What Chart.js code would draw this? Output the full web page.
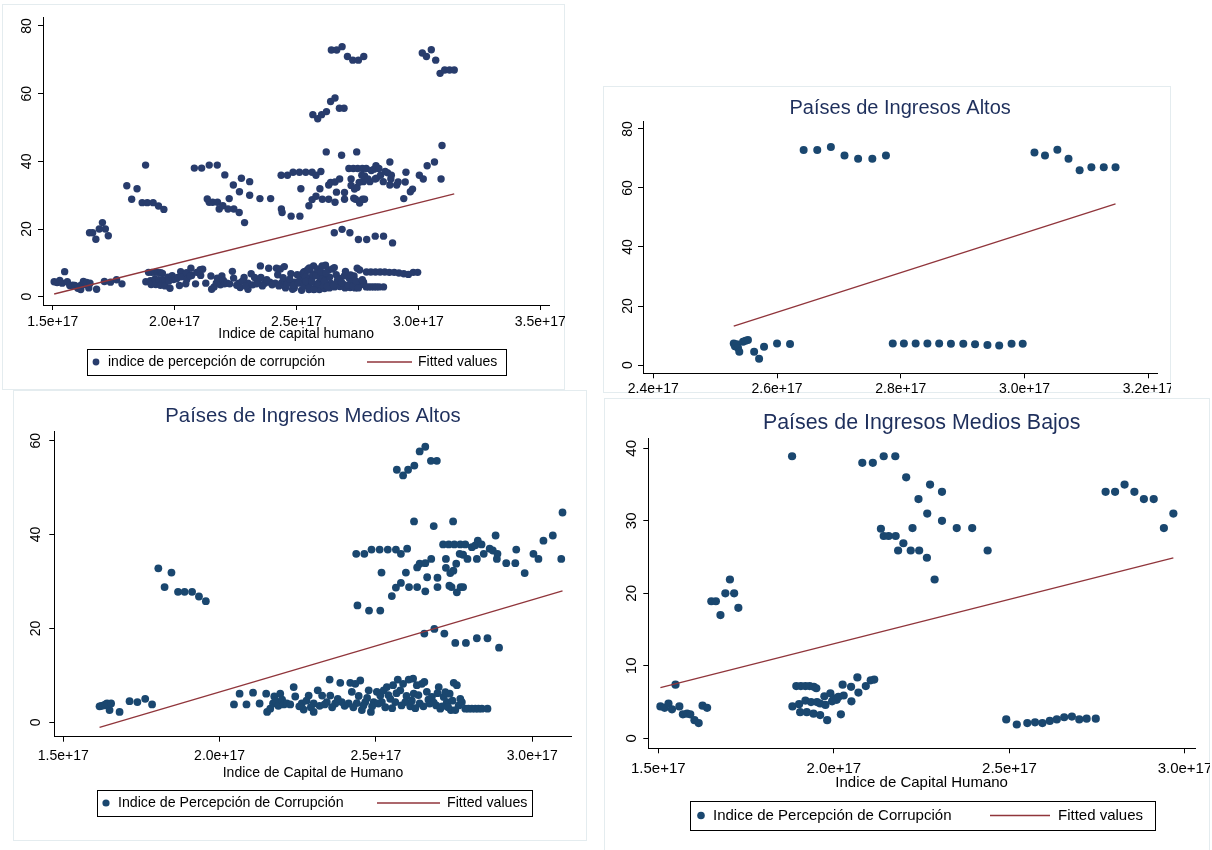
<!DOCTYPE html>
<html>
<head>
<meta charset="utf-8">
<title>Índice de percepción de corrupción vs. índice de capital humano</title>
<script src="https://cdn.jsdelivr.net/npm/chart.js@4.4.1/dist/chart.umd.min.js"></script>
<style>
  html, body { margin: 0; padding: 0; background: #fff; }
  body { width: 1212px; height: 850px; position: relative; overflow: hidden; }
  .frame { position: absolute; background: #fff; border: 1px solid #e4ecef; box-sizing: border-box; }
  canvas { position: absolute; }
</style>
</head>
<body>
<div class="frame" style="left:2px;top:4px;width:563px;height:386px"></div>
<div class="frame" style="left:603px;top:86px;width:568px;height:307px"></div>
<div class="frame" style="left:13px;top:390px;width:574px;height:451px"></div>
<div class="frame" style="left:604px;top:398px;width:606px;height:456px"></div>

<canvas id="todos" width="563" height="386" style="left:2px;top:4px"></canvas>
<canvas id="altos" width="568" height="312" style="left:603px;top:86px"></canvas>
<canvas id="mediosAltos" width="574" height="451" style="left:13px;top:390px"></canvas>
<canvas id="mediosBajos" width="606" height="452" style="left:604px;top:398px"></canvas>

<script>
// Human capital index values are stored in units of 1e17.
const HCI_UNIT = 1e17;

// [índice de capital humano (×1e17), índice de percepción de corrupción]
const ALTOS = [
  [2.530, 7.3], [2.532, 6.4], [2.535, 7.0], [2.537, 5.8], [2.539, 4.5], [2.545, 7.9],
  [2.549, 8.2], [2.553, 8.5], [2.563, 4.5], [2.571, 2.1], [2.579, 6.2], [2.600, 7.3], [2.621, 7.1],
  [2.643, 72.9], [2.665, 72.9], [2.687, 73.9], [2.709, 71.0], [2.731, 69.9], [2.754, 69.9], [2.776, 71.0],
  [2.787, 7.3], [2.805, 7.3], [2.824, 7.3], [2.843, 7.3], [2.862, 7.3], [2.881, 7.2],
  [2.901, 7.2], [2.920, 7.0], [2.940, 6.8], [2.959, 6.6], [2.979, 7.2], [2.997, 7.2],
  [3.016, 72.0], [3.033, 71.0], [3.053, 73.0], [3.071, 69.9], [3.089, 66.0], [3.108, 67.0],
  [3.128, 67.0], [3.147, 67.0]
];

const MEDIOS_ALTOS = [
  [1.616, 3.4], [1.622, 3.5], [1.629, 3.6], [1.635, 3.8], [1.640, 4.0], [1.648, 2.6],
  [1.653, 4.0], [1.680, 2.2], [1.712, 4.5], [1.737, 4.3], [1.762, 5.0], [1.784, 3.8],
  [1.804, 32.8], [1.824, 28.8], [1.846, 31.9], [1.867, 27.8], [1.888, 27.8], [1.912, 27.8],
  [1.934, 26.8], [1.956, 25.8],
  [2.046, 3.8], [2.064, 6.1], [2.086, 3.8], [2.107, 6.3], [2.128, 4.0], [2.149, 6.1],
  [2.152, 2.2], [2.162, 2.9], [2.171, 4.0], [2.175, 5.5], [2.180, 4.5], [2.188, 3.5],
  [2.194, 6.1], [2.200, 4.8], [2.205, 3.8], [2.215, 4.0], [2.226, 3.8], [2.237, 7.5], [2.242, 5.5],
  [2.263, 4.0], [2.269, 2.7], [2.285, 5.7], [2.301, 4.0], [2.301, 2.2], [2.314, 6.8],
  [2.328, 5.7], [2.343, 4.3], [2.352, 9.1], [2.354, 5.7], [2.370, 4.0], [2.386, 8.4],
  [2.391, 4.3], [2.413, 4.0], [2.418, 8.4], [2.423, 6.5], [2.434, 8.2], [2.439, 4.1],
  [2.450, 8.9], [2.455, 2.6], [2.466, 4.3], [2.477, 6.8], [2.484, 2.2], [2.493, 4.3],
  [2.503, 6.5], [2.514, 5.7], [2.519, 4.3], [2.525, 6.8], [2.535, 7.5], [2.546, 5.0],
  [2.555, 7.9], [2.562, 4.3], [2.570, 9.1], [2.578, 6.8], [2.587, 8.2], [2.594, 4.3],
  [2.605, 9.1], [2.610, 3.4], [2.619, 9.3], [2.621, 6.1], [2.631, 7.9], [2.640, 4.0],
  [2.647, 8.2], [2.655, 8.6], [2.663, 6.5], [2.672, 4.0], [2.679, 5.4], [2.693, 3.6],
  [2.701, 7.5], [2.706, 2.9], [2.717, 5.4], [2.727, 4.3], [2.736, 6.1], [2.740, 2.6],
  [2.749, 8.4], [2.759, 7.9], [2.765, 3.6], [2.775, 4.3], [2.786, 2.9], [2.796, 2.9],
  [2.807, 2.9], [2.818, 2.9], [2.828, 2.9], [2.839, 2.9], [2.857, 2.9],
  [2.255, 3.4], [2.278, 4.6], [2.292, 3.2], [2.320, 3.5], [2.336, 3.8], [2.360, 3.2],
  [2.378, 5.0], [2.400, 3.5], [2.428, 3.2], [2.445, 5.6], [2.460, 3.6], [2.472, 5.2],
  [2.488, 3.4], [2.508, 4.0], [2.530, 3.2], [2.540, 5.8], [2.552, 3.0], [2.566, 6.2],
  [2.582, 3.6], [2.598, 5.6], [2.615, 4.6], [2.626, 3.0], [2.636, 5.8], [2.652, 3.4],
  [2.668, 4.8], [2.685, 4.2], [2.697, 6.2], [2.712, 3.4], [2.722, 6.4], [2.731, 3.2],
  [2.745, 4.6], [2.754, 2.6], [2.770, 5.0],
  [2.567, 53.8], [2.587, 52.6], [2.603, 53.8], [2.623, 54.7], [2.640, 57.7], [2.658, 58.7],
  [2.676, 55.7], [2.695, 55.7],
  [2.622, 42.8], [2.685, 41.8], [2.747, 42.8],
  [2.437, 35.9], [2.463, 35.9], [2.486, 36.8], [2.512, 36.8], [2.538, 36.8], [2.564, 36.8],
  [2.580, 35.9], [2.600, 37.0],
  [2.518, 31.9], [2.596, 31.9], [2.551, 26.9], [2.564, 28.7], [2.580, 29.7], [2.606, 28.8],
  [2.632, 28.8], [2.632, 33.0], [2.640, 33.8], [2.658, 33.9], [2.677, 34.8], [2.658, 27.9],
  [2.664, 30.9], [2.697, 28.8], [2.697, 30.8],
  [2.715, 37.9], [2.733, 37.9], [2.751, 37.9], [2.770, 37.9], [2.786, 37.9],
  [2.724, 34.8], [2.724, 32.9], [2.738, 31.8], [2.748, 32.3], [2.735, 29.1], [2.742, 28.8],
  [2.757, 33.8], [2.759, 27.7], [2.771, 28.8], [2.779, 28.8], [2.768, 35.9], [2.779, 35.7],
  [2.793, 34.8], [2.807, 37.3], [2.818, 37.7], [2.826, 38.7], [2.838, 37.9], [2.845, 35.9],
  [2.823, 34.8], [2.864, 37.0], [2.874, 36.6], [2.883, 39.8], [2.887, 34.8], [2.889, 35.9],
  [2.917, 33.9], [2.946, 33.9], [2.949, 36.8], [2.976, 31.8], [3.004, 35.9], [3.020, 34.8],
  [3.036, 38.7], [3.066, 39.8], [3.097, 44.7], [3.093, 34.8],
  [2.655, 18.9], [2.687, 19.9], [2.719, 18.9], [2.754, 16.9], [2.788, 16.9], [2.823, 17.9],
  [2.857, 17.9], [2.894, 15.9],
  [2.441, 24.9], [2.478, 23.8], [2.514, 23.8]
];

const MEDIOS_BAJOS = [
  [1.506, 4.4], [1.518, 4.2], [1.529, 4.8], [1.539, 4.0], [1.549, 7.4], [1.560, 4.4],
  [1.570, 3.3], [1.582, 3.4], [1.591, 3.3], [1.603, 2.5], [1.615, 2.1], [1.626, 4.5], [1.639, 4.2],
  [1.651, 18.9], [1.664, 18.9], [1.677, 17.0], [1.691, 20.0], [1.704, 21.9], [1.716, 20.0], [1.728, 18.0],
  [1.881, 38.9],
  [1.882, 4.4], [1.893, 7.2], [1.901, 4.7], [1.904, 3.6], [1.906, 7.2], [1.919, 7.2],
  [1.919, 5.2], [1.923, 3.6], [1.931, 7.2], [1.935, 5.0], [1.942, 3.4], [1.943, 7.1],
  [1.950, 6.9], [1.952, 5.0], [1.961, 4.8], [1.961, 3.2], [1.973, 5.8], [1.976, 4.6],
  [1.981, 2.5], [1.990, 6.2], [1.995, 5.1], [2.000, 5.5], [2.008, 5.3], [2.013, 5.7],
  [2.020, 3.3], [2.025, 7.4], [2.028, 5.9], [2.049, 7.1], [2.050, 5.1], [2.067, 8.4],
  [2.070, 6.3], [2.091, 7.2], [2.105, 8.0], [2.115, 8.1],
  [2.081, 38.0], [2.111, 38.0], [2.142, 38.9], [2.175, 38.9], [2.206, 36.0], [2.241, 33.0],
  [2.274, 35.0], [2.308, 34.0], [2.266, 31.0], [2.308, 30.0], [2.350, 29.0], [2.394, 29.0],
  [2.438, 25.9], [2.134, 28.9], [2.142, 27.9], [2.156, 27.9], [2.176, 27.9], [2.183, 25.9],
  [2.198, 26.9], [2.219, 25.9], [2.243, 25.9], [2.265, 24.9], [2.287, 21.9], [2.224, 29.0],
  [2.491, 2.6], [2.521, 1.9], [2.551, 2.1], [2.573, 2.2], [2.594, 2.1], [2.615, 2.4],
  [2.635, 2.6], [2.656, 2.9], [2.678, 3.0], [2.699, 2.6], [2.720, 2.7], [2.746, 2.7],
  [2.774, 34.0], [2.801, 34.0], [2.828, 35.0], [2.856, 34.0], [2.883, 33.0], [2.911, 33.0],
  [2.940, 29.0], [2.967, 31.0]
];

// The pooled sample is the union of the three income groups.
const TODOS = [...MEDIOS_BAJOS, ...MEDIOS_ALTOS, ...ALTOS];

// Linear fit end points for each sample
const FIT_TODOS = [[1.506, 0.8], [3.147, 30.4]];
const FIT_ALTOS = [[2.530, 13.2], [3.147, 54.6]];
const FIT_MEDIOS_ALTOS = [[1.616, -1.1], [3.097, 28.0]];
const FIT_MEDIOS_BAJOS = [[1.506, 7.0], [2.967, 24.9]];

// Axis ticks (x in units of 1e17)
const X_TICKS_TODOS = [1.5, 2.0, 2.5, 3.0, 3.5];
const Y_TICKS_TODOS = [0, 20, 40, 60, 80];
const X_TICKS_ALTOS = [2.4, 2.6, 2.8, 3.0, 3.2];
const Y_TICKS_ALTOS = [0, 20, 40, 60, 80];
const X_TICKS_MEDIOS_ALTOS = [1.5, 2.0, 2.5, 3.0];
const Y_TICKS_MEDIOS_ALTOS = [0, 20, 40, 60];
const X_TICKS_MEDIOS_BAJOS = [1.5, 2.0, 2.5, 3.0];
const Y_TICKS_MEDIOS_BAJOS = [0, 10, 20, 30, 40];

const FONT = '"Liberation Sans", Arial, Helvetica, sans-serif';
const FIT_COLOR = '#90353b';
const TITLE_COLOR = '#1e2f5c';

Chart.defaults.font.family = FONT;
Chart.defaults.color = '#000';

// Stata-style legend: framed box with a marker key and a line key.
const stataLegend = {
  id: 'stataLegend',
  afterDraw(chart, args, o) {
    if (!o || !o.box) return;
    const { ctx } = chart;
    const b = o.box;
    const [pts, fit] = chart.data.datasets;
    const cy = (b.top + b.bottom) / 2;
    ctx.save();
    ctx.fillStyle = '#fff';
    ctx.fillRect(b.left, b.top, b.right - b.left, b.bottom - b.top);
    ctx.strokeStyle = '#000';
    ctx.lineWidth = 1;
    ctx.strokeRect(Math.round(b.left) + 0.5, Math.round(b.top) + 0.5,
                   Math.round(b.right - b.left), Math.round(b.bottom - b.top));
    ctx.fillStyle = pts.backgroundColor;
    ctx.beginPath();
    ctx.arc(o.dotX, cy, o.dotR, 0, Math.PI * 2);
    ctx.fill();
    ctx.font = o.fontSize + 'px ' + FONT;
    ctx.fillStyle = '#000';
    ctx.textBaseline = 'middle';
    ctx.textAlign = 'left';
    ctx.fillText(pts.label, o.textX, cy);
    ctx.strokeStyle = fit.borderColor;
    ctx.lineWidth = fit.borderWidth;
    ctx.beginPath();
    ctx.moveTo(o.lineX0, cy);
    ctx.lineTo(o.lineX1, cy);
    ctx.stroke();
    ctx.fillText(fit.label, o.text2X, cy);
    ctx.restore();
  }
};

const toXY = pairs => pairs.map(([x, y]) => ({ x: x * HCI_UNIT, y }));

function buildPanel(id, p) {
  const tickFont = { size: p.tickSize, family: FONT };
  return new Chart(document.getElementById(id), {
    type: 'scatter',
    data: {
      datasets: [
        {
          label: p.pointLabel,
          data: toXY(p.points),
          backgroundColor: p.dotColor,
          borderColor: p.dotColor,
          borderWidth: 0,
          pointRadius: p.dotRadius,
          pointHoverRadius: p.dotRadius,
          order: 1
        },
        {
          label: 'Fitted values',
          data: toXY(p.fit),
          showLine: true,
          borderColor: FIT_COLOR,
          borderWidth: 1.3,
          pointRadius: 0,
          fill: false,
          order: 0
        }
      ]
    },
    options: {
      responsive: false,
      animation: false,
      events: [],
      devicePixelRatio: 1,
      layout: { padding: p.padding },
      plugins: {
        legend: { display: false },
        tooltip: { enabled: false },
        title: p.title ? {
          display: true,
          text: p.title,
          fullSize: false,
          color: TITLE_COLOR,
          font: { size: p.titleSize, weight: 'normal', family: FONT, lineHeight: 1.2 },
          padding: p.titlePadding
        } : { display: false },
        stataLegend: p.legend
      },
      scales: {
        x: {
          type: 'linear',
          min: p.xMin * HCI_UNIT,
          max: p.xMax * HCI_UNIT,
          afterBuildTicks: s => { s.ticks = p.xTicks.map(v => ({ value: v * HCI_UNIT })); },
          afterFit: s => { s.height = p.xHeight; s.paddingLeft = 0; s.paddingRight = 0; },
          grid: { display: true, drawOnChartArea: false, drawTicks: true, tickLength: 5, color: '#000', lineWidth: 1 },
          border: { display: true, color: '#000', width: 1 },
          ticks: {
            font: tickFont, color: '#000', padding: p.xTickPad,
            minRotation: 0, maxRotation: 0, autoSkip: false,
            callback: v => Number(v).toExponential(1)
          },
          title: p.xTitle ? {
            display: true, text: p.xTitle, color: '#000',
            font: { size: p.xTitleSize, family: FONT, lineHeight: 1.2 },
            padding: { top: 0, bottom: p.xTitleBottom }
          } : { display: false }
        },
        y: {
          type: 'linear',
          min: p.yMin,
          max: p.yMax,
          afterBuildTicks: s => { s.ticks = p.yTicks.map(v => ({ value: v })); },
          afterFit: s => { s.width = p.yWidth; s.paddingTop = 0; s.paddingBottom = 0; },
          grid: { display: true, drawOnChartArea: false, drawTicks: true, tickLength: 5, color: '#000', lineWidth: 1 },
          border: { display: true, color: '#000', width: 1 },
          ticks: {
            font: tickFont, color: '#000', padding: p.yTickPad,
            minRotation: 90, maxRotation: 90, crossAlign: 'center', autoSkip: false,
            callback: v => String(v)
          }
        }
      }
    },
    plugins: [stataLegend]
  });
}

// Todos los países
buildPanel('todos', {
  points: TODOS, fit: FIT_TODOS,
  pointLabel: 'indice de percepción de corrupción',
  dotColor: '#283c6c', dotRadius: 3.7,
  xMin: 1.4602, xMax: 3.537, yMin: -2.45, yMax: 82.57,
  xTicks: X_TICKS_TODOS, yTicks: Y_TICKS_TODOS,
  tickSize: 14, xTickPad: 3.3, yTickPad: 3.5,
  padding: { left: 0, top: 13.3, right: 15.7, bottom: 0 },
  yWidth: 41, xHeight: 85,
  xTitle: 'Indice de capital humano', xTitleSize: 14, xTitleBottom: 47.6,
  legend: { box: { left: 85, top: 345, right: 504, bottom: 371 },
            dotX: 94, dotR: 3.4, textX: 106, lineX0: 365, lineX1: 410, text2X: 416, fontSize: 14 }
});

// Países de ingresos altos
buildPanel('altos', {
  points: ALTOS, fit: FIT_ALTOS,
  pointLabel: 'Indice de Percepción de Corrupción',
  dotColor: '#1a476f', dotRadius: 4.0,
  xMin: 2.3834, xMax: 3.2145, yMin: -2.81, yMax: 82.47,
  xTicks: X_TICKS_ALTOS, yTicks: Y_TICKS_ALTOS,
  tickSize: 14, xTickPad: 2, yTickPad: 2.2,
  padding: { left: 0, top: 0, right: 13.7, bottom: 0 },
  title: 'Países de Ingresos Altos', titleSize: 20, titlePadding: { top: 10, bottom: 1.7 },
  yWidth: 40, xHeight: 24.7,
  legend: null
});

// Países de ingresos medios altos
buildPanel('mediosAltos', {
  points: MEDIOS_ALTOS, fit: FIT_MEDIOS_ALTOS,
  pointLabel: 'Indice de Percepción de Corrupción',
  dotColor: '#1a476f', dotRadius: 3.9,
  xMin: 1.4712, xMax: 3.1264, yMin: -3.07, yMax: 61.92,
  xTicks: X_TICKS_MEDIOS_ALTOS, yTicks: Y_TICKS_MEDIOS_ALTOS,
  tickSize: 14, xTickPad: 5.6, yTickPad: 5.5,
  padding: { left: 0, top: 0, right: 15.3, bottom: 0 },
  title: 'Países de Ingresos Medios Altos', titleSize: 20.3, titlePadding: { top: 14.5, bottom: 2.8 },
  yWidth: 41.3, xHeight: 104.3,
  xTitle: 'Indice de Capital de Humano', xTitleSize: 14, xTitleBottom: 59.6,
  legend: { box: { left: 84, top: 400, right: 519, bottom: 426 },
            dotX: 93, dotR: 3.6, textX: 105, lineX0: 364, lineX1: 427, text2X: 434, fontSize: 14.2 }
});

// Países de ingresos medios bajos
buildPanel('mediosBajos', {
  points: MEDIOS_BAJOS, fit: FIT_MEDIOS_BAJOS,
  pointLabel: 'Indice de Percepción de Corrupción',
  dotColor: '#1a476f', dotRadius: 4.1,
  xMin: 1.4715, xMax: 3.0286, yMin: -1.38, yMax: 41.38,
  xTicks: X_TICKS_MEDIOS_BAJOS, yTicks: Y_TICKS_MEDIOS_BAJOS,
  tickSize: 15, xTickPad: 6.1, yTickPad: 3.3,
  padding: { left: 0, top: 0, right: 15, bottom: 0 },
  title: 'Países de Ingresos Medios Bajos', titleSize: 21.4, titlePadding: { top: 12.5, bottom: 2.1 },
  yWidth: 44.3, xHeight: 101.7,
  xTitle: 'Indice de Capital Humano', xTitleSize: 15, xTitleBottom: 58,
  legend: { box: { left: 86, top: 403, right: 551, bottom: 432 },
            dotX: 97, dotR: 3.8, textX: 109, lineX0: 386, lineX1: 446, text2X: 454, fontSize: 15 }
});
</script>
</body>
</html>
